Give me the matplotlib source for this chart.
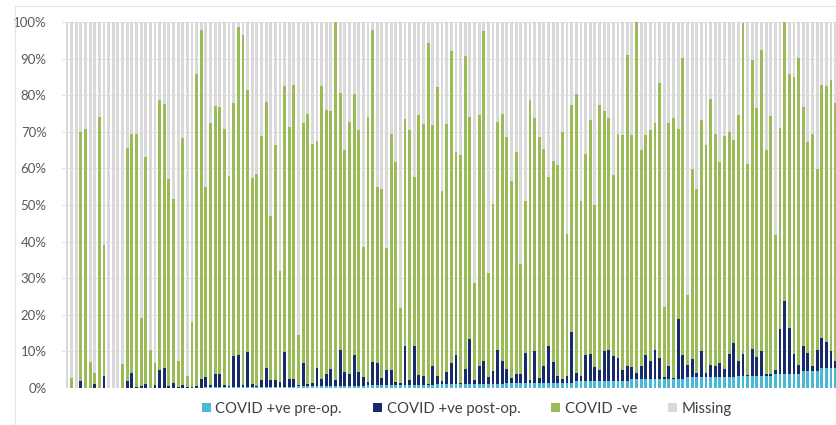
import numpy as np
import matplotlib
matplotlib.use('Agg')
import matplotlib.pyplot as plt
from matplotlib.patches import Rectangle

# Share of operations per unit (%).
# pre_op: COVID +ve pre-op. segment
# pos_top: top of the COVID +ve (pre + post-op.) stack
# tested_top: top of the COVID -ve segment (everything that is not missing)
pre_op = ([0.0] * 30 + [0.3] * 20 + [0.5] * 15 + [0.8] * 15 + [1.1] * 15
          + [1.5] * 15 + [1.9] * 12 + [2.4] * 12 + [2.9] * 11 + [3.3] * 8
          + [3.9] * 6 + [4.6] * 4 + [5.5] * 4)

pos_top = [
    0, 0, 0, 2.0, 0, 0, 1.2, 0, 3.3, 0,
    0, 0, 0, 2.0, 4.2, 0.4, 0.5, 1.2, 0, 0.9,
    4.8, 5.5, 0.6, 1.4, 0.3, 0.9, 0.3, 0.3, 0.5, 2.5,
    2.9, 0.9, 3.8, 3.8, 0.9, 0.6, 8.7, 9.1, 0.9, 9.8,
    1.2, 0.6, 2.1, 5.5, 2.1, 2.1, 1.6, 9.8, 2.5, 2.5,
    0.8, 6.9, 1.0, 1.4, 5.4, 2.4, 3.7, 5.1, 2.1, 10.4,
    4.5, 3.7, 9.1, 4.3, 2.9, 1.6, 7.2, 6.8, 2.7, 4.9,
    4.9, 1.6, 1.5, 11.4, 2.2, 11.5, 3.6, 3.3, 1.0, 6.1,
    3.2, 1.8, 4.4, 6.7, 9.1, 1.3, 5.1, 13.4, 2.2, 5.9,
    7.3, 3.0, 4.6, 10.3, 7.3, 5.1, 2.7, 3.9, 3.9, 9.6,
    2.1, 10.0, 2.7, 5.9, 11.5, 7.0, 3.2, 2.5, 3.2, 15.3,
    4.1, 3.2, 9.1, 9.4, 5.8, 5.0, 10.1, 10.3, 8.7, 8.2,
    5.0, 6.1, 5.8, 4.1, 6.1, 9.1, 7.3, 10.3, 8.2, 2.9,
    5.9, 2.7, 18.8, 9.1, 6.4, 8.0, 4.1, 10.1, 4.1, 6.4,
    5.9, 6.9, 5.2, 9.4, 12.4, 7.3, 9.4, 3.5, 10.7, 8.5,
    10.1, 3.7, 3.7, 5.0, 16.2, 23.8, 16.4, 9.4, 6.4, 11.4,
    9.6, 5.9, 10.3, 13.7, 12.5, 10.1, 7.3,
]

tested_top = [
    0, 2.6, 0, 70.0, 70.7, 7.0, 4.0, 74.0, 39.0, 0,
    0, 0, 6.5, 65.5, 69.5, 69.3, 19.2, 63.0, 10.5, 6.9,
    78.6, 77.7, 57.2, 51.7, 7.3, 68.4, 3.2, 18.0, 85.7, 97.9,
    54.9, 72.4, 77.0, 76.7, 70.9, 58.0, 77.9, 98.5, 96.5, 81.4,
    57.5, 58.4, 68.9, 78.1, 46.9, 66.5, 32.0, 82.5, 71.3, 82.7,
    14.5, 72.4, 74.9, 66.7, 67.6, 82.5, 75.9, 75.6, 99.9, 80.5,
    64.9, 72.7, 80.3, 70.4, 38.6, 74.0, 97.8, 54.8, 54.4, 38.3,
    69.5, 61.7, 21.9, 73.4, 70.4, 57.6, 74.6, 72.0, 94.2, 71.8,
    82.3, 53.8, 72.1, 92.0, 64.6, 63.7, 90.8, 74.0, 28.7, 74.7,
    97.5, 31.5, 50.2, 72.7, 74.9, 68.5, 56.6, 64.6, 33.8, 51.0,
    78.6, 73.8, 68.6, 65.3, 57.6, 61.9, 60.8, 70.0, 42.1, 77.3,
    80.2, 51.2, 63.8, 73.2, 50.0, 77.3, 75.7, 73.7, 58.3, 69.5,
    69.1, 91.0, 69.1, 100.0, 65.0, 69.1, 70.4, 72.3, 83.3, 22.0,
    72.3, 73.8, 70.9, 90.3, 25.3, 59.9, 54.4, 73.2, 66.3, 79.0,
    69.5, 61.8, 68.8, 70.0, 67.7, 74.6, 99.7, 61.3, 89.7, 76.6,
    92.4, 65.0, 74.4, 41.8, 71.1, 100.0, 85.7, 85.1, 90.3, 76.9,
    67.2, 69.5, 59.9, 82.8, 82.6, 84.2, 77.8,
]

labels = ['COVID +ve pre-op.', 'COVID +ve post-op.', 'COVID -ve', 'Missing']
colors = ['#4bb8d6', '#172a6b', '#9bbb59', '#d9d9d9']

pre = np.array(pre_op, dtype=float)
post = np.array(pos_top, dtype=float) - pre
neg = np.array(tested_top, dtype=float) - np.array(pos_top, dtype=float)
missing = 100 - np.array(tested_top, dtype=float)

plt.rcParams['font.family'] = ['Lato', 'DejaVu Sans']

fig = plt.figure(figsize=(8.37, 4.25), dpi=100)
ax = fig.add_axes([62 / 837, 37 / 425, 775 / 837, 366 / 425])

x = np.arange(len(pre))
w = 0.62
bottom = np.zeros(len(x))
for vals, lab, col in zip([pre, post, neg, missing], labels, colors):
    ax.bar(x, vals, bottom=bottom, width=w, color=col, label=lab,
           linewidth=0, zorder=2)
    bottom += vals

ax.set_xlim(-1.08, 166.3)
ax.set_ylim(0, 100)
ax.set_yticks(np.arange(0, 101, 10))
ax.set_yticklabels([f'{v}%' for v in range(0, 101, 10)], fontsize=9.5,
                   color='#595959')
ax.set_xticks([])
ax.tick_params(axis='y', length=0, pad=11)
ax.grid(axis='y', color='#e6e6e6', linewidth=0.8, zorder=0)
for s in ax.spines.values():
    s.set_visible(False)

# chart area border (Excel style)
fig.patches.append(Rectangle((15 / 837, -0.01), 1.0, 1 - 6 / 425 + 0.01,
                             transform=fig.transFigure, fill=False,
                             edgecolor='#e3e3e3', linewidth=0.8))

ax.legend(loc='center', bbox_to_anchor=(467 / 837, 1 - 409 / 425),
          bbox_transform=fig.transFigure, ncol=4, frameon=False,
          fontsize=10.7, handlelength=0.6, handleheight=0.6,
          handletextpad=0.3, columnspacing=2.1, labelcolor='#404040')

fig.savefig('out.png', dpi=100, facecolor='white')
plt.close()
